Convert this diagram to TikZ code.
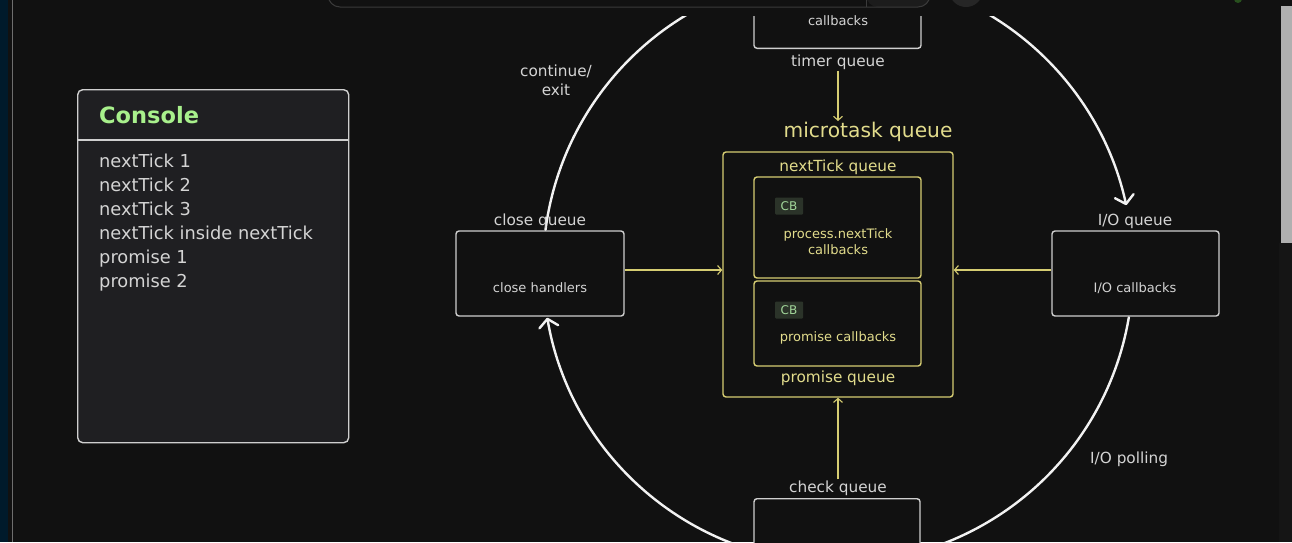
\documentclass[tikz,border=0pt]{standalone}
\usepackage{fontspec}
\setmainfont{DejaVu Sans}
\usetikzlibrary{arrows.meta}

\definecolor{bgc}{HTML}{111111}
\definecolor{stripc}{HTML}{001A2B}
\definecolor{sepc}{HTML}{6E6E6E}
\definecolor{scrollc}{HTML}{B0B0B0}
\definecolor{gutterc}{HTML}{151515}
\definecolor{barline}{HTML}{3A3A3A}
\definecolor{barfill}{HTML}{1C1C1C}
\definecolor{btnc}{HTML}{262626}
\definecolor{dotc}{HTML}{28501E}
\definecolor{loopc}{HTML}{F2F2F2}
\definecolor{labelc}{HTML}{D4D4D4}
\definecolor{boxline}{HTML}{CFCFCF}
\definecolor{yel}{HTML}{D6CD72}
\definecolor{yeltext}{HTML}{E2DC8C}
\definecolor{cbfill}{HTML}{2B3329}
\definecolor{cbtext}{HTML}{A2D69A}
\definecolor{consfill}{HTML}{1F1F22}
\definecolor{titlec}{HTML}{A8F08C}

\newcommand{\fsz}[1]{\fontsize{#1}{#1}\selectfont}

\begin{document}
\begin{tikzpicture}[x=1pt,y=-1pt,
  lbl/.style={text=labelc, inner sep=1pt, font=\fsz{15.3}},
  boxtext/.style={text=labelc, inner sep=1pt, font=\fsz{13}},
  qbox/.style={draw=boxline, line width=1.4pt, fill=bgc, rounded corners=3pt, inner sep=0pt},
  ybox/.style={draw=yel, line width=1.4pt, fill=bgc, rounded corners=3pt, inner sep=0pt},
  ylbl/.style={text=yeltext, inner sep=1pt, font=\fsz{15.3}},
  ysmall/.style={text=yeltext, inner sep=1pt, font=\fsz{13}, align=center},
  yarrow/.style={draw=yel, line width=1.1pt, -{Straight Barb[length=4pt,width=9pt]}},
  loopline/.style={draw=loopc, line width=2.4pt, line cap=round},
  looptip/.style={-{Straight Barb[length=8pt,width=19pt,round]}},
  cbbadge/.style={fill=cbfill, text=cbtext, font=\fsz{12}, inner sep=0pt,
    minimum width=28, minimum height=17, rounded corners=1pt},
  conline/.style={text=labelc, inner sep=0pt, anchor=base west, font=\fsz{17.8}},
]
\useasboundingbox (0,0) rectangle (1292,542);
\fill[bgc] (0,0) rectangle (1292,542);

% window chrome
\fill[stripc] (0,0) rectangle (8,542);
\draw[sepc, line width=1pt] (12.5,0) -- (12.5,542);
\fill[gutterc] (1279,243) rectangle (1292,542);
\fill[scrollc] (1281,6) rectangle (1292,243);
\fill[barfill, rounded corners=12pt] (866,-30) rectangle (930,7);
\draw[barline, line width=1pt, rounded corners=12pt] (328,-30) rectangle (930,7);
\draw[barline, line width=1pt] (866,-30) -- (866,7);
\fill[btnc] (966,-10) circle (17);
\fill[dotc] (1238,-1) circle (4);

% console panel
\node[draw=boxline, line width=1.4pt, fill=consfill, rounded corners=5pt,
  minimum width=271, minimum height=353, anchor=north west, inner sep=0pt] (console) at (77,89) {};
\draw[boxline, line width=1.4pt] ([yshift=-51pt]console.north west) -- ([yshift=-51pt]console.north east);
\node[text=titlec, inner sep=0pt, anchor=base west, font=\bfseries\fsz{22.5}] (ctitle) at (99,123) {Console};
\node[conline] (c1) at (99,167) {nextTick 1};
\node[conline] (c2) at (99,191) {nextTick 2};
\node[conline] (c3) at (99,215) {nextTick 3};
\node[conline] (c4) at (99,239) {nextTick inside nextTick};
\node[conline] (c5) at (99,263) {promise 1};
\node[conline] (c6) at (99,287) {promise 2};

% event loop ring and phase boxes
\coordinate (ring) at (838,268);
\begin{scope}
\clip (0,16) rectangle (1292,542);
\draw[loopline, looptip] ([shift={(-62:295)}]ring) arc[start angle=-62, end angle=-12.3, radius=295];
\draw[loopline, looptip] ([shift={(9.6:295)}]ring) arc[start angle=9.6, end angle=170.3, radius=295];
\draw[loopline] ([shift={(187.4:295)}]ring) arc[start angle=187.4, end angle=242, radius=295];
\node[qbox, minimum width=167, minimum height=90, anchor=south] (timerbox) at (837.5,49) {};
\node[qbox, minimum width=166, minimum height=90, anchor=north] (checkbox) at (837,498) {};
\end{scope}

\node[boxtext] (timertxt) at (838,21) {callbacks};
\node[lbl] (timerlbl) at (838,62) {timer queue};
\node[lbl] (checklbl) at (838,488) {check queue};

\node[qbox, minimum width=168, minimum height=85] (closebox) at (540,273.5) {};
\node[lbl] (closelbl) at (540,221) {close queue};
\node[boxtext] (closetxt) at (540,288) {close handlers};

\node[qbox, minimum width=167, minimum height=85] (iobox) at (1135.5,273.5) {};
\node[lbl] (iolbl) at (1135,221) {I/O queue};
\node[boxtext] (iotxt) at (1135,288) {I/O callbacks};

\node[lbl, align=center, font=\fontsize{15.3}{19}\selectfont] (exitlbl) at (556,80) {continue/\\exit};
\node[lbl, anchor=west] (polllbl) at (1089,459) {I/O polling};

% microtask queue
\node[text=yeltext, inner sep=1pt, font=\fsz{20.2}] (microlbl) at (868,132) {microtask queue};
\node[ybox, minimum width=230, minimum height=245] (mtbox) at (838,274.5) {};
\node[ylbl] (ntlbl) at (838,167) {nextTick queue};
\node[ybox, minimum width=167, minimum height=101] (ntbox) at (837.5,227.5) {};
\node[ybox, minimum width=167, minimum height=85] (prbox) at (837.5,323.5) {};
\node[ylbl] (prlbl) at (838,378) {promise queue};
\node[cbbadge] (cb1) at (789,206) {CB};
\node[ysmall, font=\fontsize{13}{16}\selectfont] (nttxt) at (838,242) {process.nextTick\\callbacks};
\node[cbbadge] (cb2) at (789,310) {CB};
\node[ysmall] (prtxt) at (838,338) {promise callbacks};

% flow into the microtask queue
\coordinate (closeout) at ([yshift=3.5pt]closebox.east);
\coordinate (ioout) at ([yshift=3.5pt]iobox.west);
\draw[yarrow] (timerlbl.south) -- (timerlbl.south |- microlbl.north);
\draw[yarrow] (checklbl.north) -- (mtbox.south);
\draw[yarrow] (closeout) -- (closeout -| mtbox.west);
\draw[yarrow] (ioout) -- (ioout -| mtbox.east);
\end{tikzpicture}
\end{document}
